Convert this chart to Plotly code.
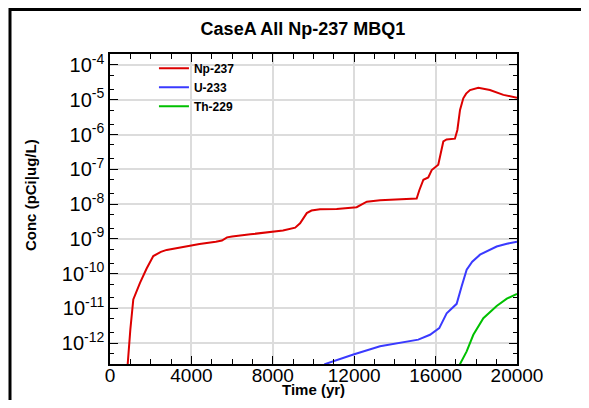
import plotly.graph_objects as go

# Np-237 concentration history
np_time = [800, 870, 1000, 1145, 1474, 1800, 2128, 2500, 2785, 3600, 4400, 5200,
           5500, 5750, 6000, 6900, 8500, 9100, 9340, 9670, 9900, 10320, 11140,
           12120, 12400, 12620, 13270, 15070, 15200, 15400, 15640, 15810, 16130,
           16250, 16380, 16540, 16950, 17070, 17200, 17360, 17500, 17690, 18100,
           18670, 19330, 20000]
np_conc = [1.0e-13, 2.5e-13, 2.5e-12, 1.8e-11, 5.4e-11, 1.4e-10, 3.2e-10, 4.2e-10,
           4.8e-10, 6.0e-10, 7.1e-10, 8.3e-10, 8.9e-10, 1.1e-9, 1.17e-9, 1.35e-9,
           1.74e-9, 2.1e-9, 2.8e-9, 5.5e-9, 6.5e-9, 7.1e-9, 7.2e-9, 8.1e-9, 1.0e-8,
           1.17e-8, 1.29e-8, 1.45e-8, 2.5e-8, 5.0e-8, 5.8e-8, 9.5e-8, 1.35e-7,
           2.9e-7, 6.3e-7, 7.2e-7, 7.6e-7, 1.35e-6, 5.1e-6, 1.1e-5, 1.5e-5, 1.9e-5,
           2.2e-5, 1.9e-5, 1.38e-5, 1.15e-5]

# U-233
u_time = [10300, 10565, 11960, 13270, 15150, 15725, 16180, 16400, 16544, 17035,
          17150, 17281, 17527, 17800, 18182, 18600, 19000, 19500, 20000]
u_conc = [1.6e-13, 2.5e-13, 4.7e-13, 8.1e-13, 1.26e-12, 1.74e-12, 2.7e-12, 5.0e-12,
          7.2e-12, 1.35e-11, 2.2e-11, 4.3e-11, 1.3e-10, 2.2e-10, 3.5e-10, 4.7e-10,
          6.0e-10, 7.2e-10, 8.3e-10]

# Th-229
th_time = [17100, 17199, 17527, 17854, 18346, 19001, 19500, 20000]
th_conc = [1.0e-13, 2.5e-13, 5.8e-13, 1.74e-12, 5.2e-12, 1.17e-11, 1.9e-11, 2.6e-11]

x_tickvals = [0, 4000, 8000, 12000, 16000, 20000]
x_ticktext = ["0", "4000", "8000", "12000", "16000", "20000"]
y_tickvals = [1e-12, 1e-11, 1e-10, 1e-9, 1e-8, 1e-7, 1e-6, 1e-5, 1e-4]
y_ticktext = ["10<sup>-12</sup>", "10<sup>-11</sup>", "10<sup>-10</sup>", "10<sup>-9</sup>",
              "10<sup>-8</sup>", "10<sup>-7</sup>", "10<sup>-6</sup>", "10<sup>-5</sup>",
              "10<sup>-4</sup>"]

font = "Liberation Sans, Arial, sans-serif"

fig = go.Figure()
fig.add_trace(go.Scatter(x=np_time, y=np_conc, mode="lines", name="<b>Np-237</b>",
                         line=dict(color="#dd0000", width=2)))
fig.add_trace(go.Scatter(x=u_time, y=u_conc, mode="lines", name="<b>U-233</b>",
                         line=dict(color="#3a3aff", width=2)))
fig.add_trace(go.Scatter(x=th_time, y=th_conc, mode="lines", name="<b>Th-229</b>",
                         line=dict(color="#00c000", width=2)))

# page body has an 8px margin, so the figure is a bit smaller and shifted
fig.update_layout(
    width=573, height=392,
    margin=dict(l=102, r=64, t=46, b=36),
    paper_bgcolor="white", plot_bgcolor="white",
    font=dict(family=font, color="black"),
    title=dict(text="<b>CaseA All Np-237 MBQ1</b>", x=0.5148, xanchor="center",
               y=0.9464, yanchor="middle", font=dict(size=18)),
    showlegend=True,
    legend=dict(x=0.108, y=1.0006, xanchor="left", yanchor="top",
                bgcolor="rgba(0,0,0,0)", font=dict(size=12),
                tracegroupgap=0),
    xaxis=dict(
        range=[0, 20000], tickvals=x_tickvals, ticktext=x_ticktext,
        ticks="inside", ticklen=8, tickcolor="black", tickwidth=1,
        minor=dict(ticks="inside", dtick=1000, ticklen=5, tickcolor="black", showgrid=False),
        showline=True, linecolor="black", linewidth=1.5, mirror="allticks",
        showgrid=True, gridcolor="#dcdcdc", gridwidth=1.5,
        tickfont=dict(size=19), zeroline=False, automargin=False,
        ticklabelstandoff=-7,
    ),
    yaxis=dict(
        type="log", range=[-12.6, -3.684],
        tickvals=y_tickvals, ticktext=y_ticktext,
        ticks="inside", ticklen=8, tickcolor="black", tickwidth=1,
        minor=dict(ticks="inside", ticklen=4, tickcolor="black", showgrid=False),
        showline=True, linecolor="black", linewidth=1.5, mirror="allticks",
        showgrid=True, gridcolor="#dcdcdc", gridwidth=1.5,
        tickfont=dict(size=20), zeroline=False, automargin=False,
        ticklabelstandoff=0,
    ),
    annotations=[
        dict(text="<b>Conc (pCi|ug/L)</b>", xref="paper", yref="paper",
             x=-0.1966, y=0.545, xanchor="center", yanchor="middle",
             textangle=-90, showarrow=False, font=dict(size=15)),
        dict(text="<b>Time (yr)</b>", xref="paper", yref="paper",
             x=0.5, y=-0.1161, xanchor="center", yanchor="bottom",
             showarrow=False, font=dict(size=15)),
    ],
    shapes=[
        dict(type="line", xref="paper", yref="paper", x0=-0.2457, x1=1.3, y0=1.1435, y1=1.1435,
             line=dict(color="black", width=3)),
        dict(type="line", xref="paper", yref="paper", x0=-0.2457, x1=-0.2457, y0=1.15, y1=-0.2,
             line=dict(color="black", width=3)),
    ],
)

fig.write_html("out.html")
